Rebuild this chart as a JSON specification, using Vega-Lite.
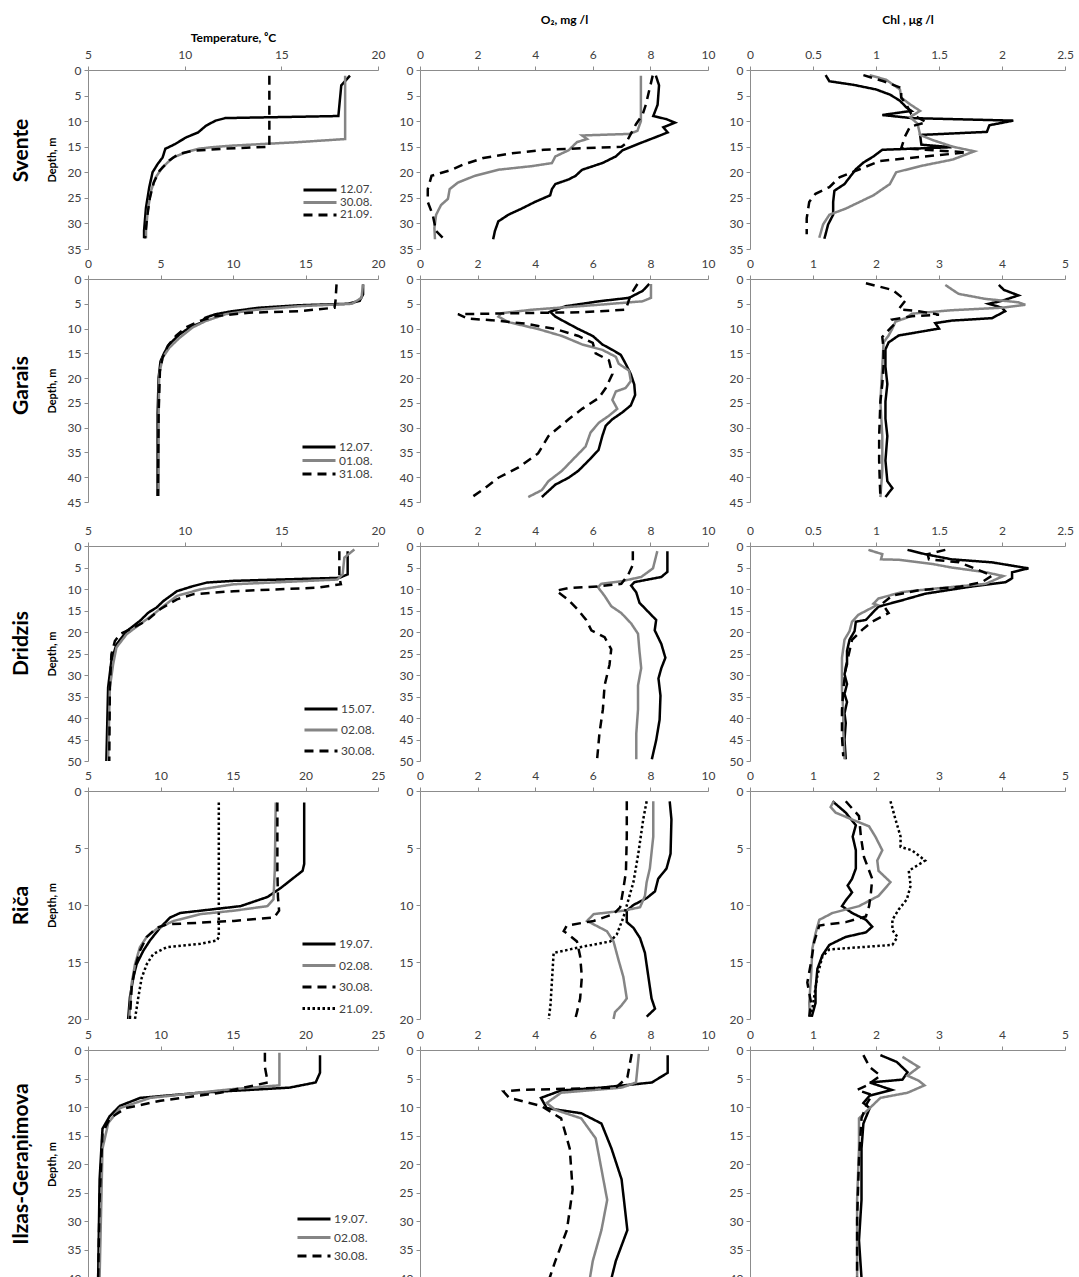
{
"$schema": "https://vega.github.io/schema/vega-lite/v6.json",
"background": "white",
"padding": {"left": 11, "top": 13, "right": 2, "bottom": 0},
"bounds": "flush",
"align": "each",
"columns": 3,
"spacing": {"row": 30, "column": 42},
"config": {
 "font": "Lato",
 "view": {"stroke": null},
 "axis": {"domainColor": "#8c8c8c", "tickColor": "#8c8c8c", "labelColor": "#404040", "labelFontSize": 12, "labelFont": "Lato", "grid": false, "tickSize": 4, "labelFlush": false, "labelOverlap": false, "titleFont": "Lato", "titleFontSize": 11, "titleFontWeight": "bold", "titleColor": "#000000", "format": ".2~f"},
 "legend": {"labelFontSize": 12, "labelFont": "Lato", "labelColor": "#404040"}
},
"resolve": {"scale": {"color": "independent", "strokeDash": "independent"}, "legend": {"color": "independent", "strokeDash": "independent"}},
"datasets": {
"svT": [
{"date":"12.07.","d":1.1,"v":18.55},{"date":"12.07.","d":3,"v":18.1},{"date":"12.07.","d":9,"v":17.95},{"date":"12.07.","d":9.4,"v":12.1},{"date":"12.07.","d":9.9,"v":11.6},{"date":"12.07.","d":10.9,"v":11.1},{"date":"12.07.","d":12.2,"v":10.7},{"date":"12.07.","d":13.2,"v":10.06},{"date":"12.07.","d":14.5,"v":9.5},{"date":"12.07.","d":15.4,"v":9.0},{"date":"12.07.","d":17.1,"v":8.86},{"date":"12.07.","d":18.4,"v":8.6},{"date":"12.07.","d":20,"v":8.34},{"date":"12.07.","d":22.9,"v":8.17},{"date":"12.07.","d":26.9,"v":8.0},{"date":"12.07.","d":31.4,"v":7.9},{"date":"12.07.","d":32.9,"v":7.9},
{"date":"30.08.","d":1.1,"v":18.3},{"date":"30.08.","d":9.9,"v":18.3},{"date":"30.08.","d":13.5,"v":18.3},{"date":"30.08.","d":14.1,"v":15.9},{"date":"30.08.","d":14.8,"v":12.4},{"date":"30.08.","d":15.1,"v":11.4},{"date":"30.08.","d":15.4,"v":10.7},{"date":"30.08.","d":16.1,"v":10.06},{"date":"30.08.","d":17.1,"v":9.4},{"date":"30.08.","d":19,"v":8.86},{"date":"30.08.","d":21,"v":8.5},{"date":"30.08.","d":23.6,"v":8.26},{"date":"30.08.","d":27.5,"v":8.09},{"date":"30.08.","d":31.4,"v":8.0},{"date":"30.08.","d":32.9,"v":8.0},
{"date":"21.09.","d":1.1,"v":14.38},{"date":"21.09.","d":15,"v":14.38},{"date":"21.09.","d":15.4,"v":12},{"date":"21.09.","d":15.8,"v":10.4},{"date":"21.09.","d":16.4,"v":9.7},{"date":"21.09.","d":17.7,"v":9.2},{"date":"21.09.","d":19.7,"v":8.7},{"date":"21.09.","d":22,"v":8.4},{"date":"21.09.","d":25,"v":8.2},{"date":"21.09.","d":29,"v":8.05},{"date":"21.09.","d":32.9,"v":7.95}
],
"svO": [
{"date":"12.07.","d":1.1,"v":8.19},{"date":"12.07.","d":3,"v":8.3},{"date":"12.07.","d":6.8,"v":8.25},{"date":"12.07.","d":9,"v":8.1},{"date":"12.07.","d":9.6,"v":8.55},{"date":"12.07.","d":10.3,"v":8.85},{"date":"12.07.","d":11.2,"v":8.45},{"date":"12.07.","d":12.2,"v":8.6},{"date":"12.07.","d":13.1,"v":8.2},{"date":"12.07.","d":14.4,"v":7.6},{"date":"12.07.","d":15.7,"v":7.03},{"date":"12.07.","d":16.9,"v":6.8},{"date":"12.07.","d":18.2,"v":6.33},{"date":"12.07.","d":19.5,"v":5.63},{"date":"12.07.","d":20.7,"v":5.4},{"date":"12.07.","d":21.4,"v":5.16},{"date":"12.07.","d":22.3,"v":4.7},{"date":"12.07.","d":23.3,"v":4.58},{"date":"12.07.","d":24.5,"v":4.52},{"date":"12.07.","d":25.8,"v":3.99},{"date":"12.07.","d":27.1,"v":3.53},{"date":"12.07.","d":28.3,"v":3.07},{"date":"12.07.","d":29.6,"v":2.72},{"date":"12.07.","d":31.5,"v":2.6},{"date":"12.07.","d":33.1,"v":2.54},
{"date":"30.08.","d":1.1,"v":7.67},{"date":"30.08.","d":10,"v":7.67},{"date":"30.08.","d":11.9,"v":7.55},{"date":"30.08.","d":12.5,"v":7.26},{"date":"30.08.","d":12.8,"v":5.63},{"date":"30.08.","d":13.5,"v":5.8},{"date":"30.08.","d":14.1,"v":5.45},{"date":"30.08.","d":15.7,"v":5.16},{"date":"30.08.","d":16.9,"v":4.7},{"date":"30.08.","d":18.2,"v":4.58},{"date":"30.08.","d":18.8,"v":3.88},{"date":"30.08.","d":19.5,"v":2.72},{"date":"30.08.","d":20.7,"v":1.9},{"date":"30.08.","d":22,"v":1.32},{"date":"30.08.","d":23.3,"v":1.03},{"date":"30.08.","d":25.2,"v":0.97},{"date":"30.08.","d":26.4,"v":0.73},{"date":"30.08.","d":28.3,"v":0.56},{"date":"30.08.","d":30.9,"v":0.5},{"date":"30.08.","d":33.1,"v":0.52},
{"date":"21.09.","d":1.1,"v":8.08},{"date":"21.09.","d":3,"v":8.0},{"date":"21.09.","d":6.8,"v":7.84},{"date":"21.09.","d":8.7,"v":7.73},{"date":"21.09.","d":10.6,"v":7.5},{"date":"21.09.","d":12.5,"v":7.32},{"date":"21.09.","d":14.4,"v":7.14},{"date":"21.09.","d":15,"v":7.0},{"date":"21.09.","d":15.3,"v":5.6},{"date":"21.09.","d":15.6,"v":4.3},{"date":"21.09.","d":16.3,"v":3.2},{"date":"21.09.","d":17.2,"v":2.2},{"date":"21.09.","d":18.5,"v":1.5},{"date":"21.09.","d":19.5,"v":1.1},{"date":"21.09.","d":20.7,"v":0.4},{"date":"21.09.","d":23.3,"v":0.27},{"date":"21.09.","d":25.8,"v":0.27},{"date":"21.09.","d":28.3,"v":0.44},{"date":"21.09.","d":31.5,"v":0.56},{"date":"21.09.","d":32.8,"v":0.79}
],
"svC": [
{"date":"12.07.","d":1,"v":0.6},{"date":"12.07.","d":2.2,"v":0.63},{"date":"12.07.","d":2.9,"v":0.82},{"date":"12.07.","d":3.8,"v":1.0},{"date":"12.07.","d":4.8,"v":1.11},{"date":"12.07.","d":6,"v":1.19},{"date":"12.07.","d":7.3,"v":1.24},{"date":"12.07.","d":8,"v":1.28},{"date":"12.07.","d":8.8,"v":1.05},{"date":"12.07.","d":9.4,"v":1.28},{"date":"12.07.","d":9.9,"v":2.09},{"date":"12.07.","d":10.8,"v":1.9},{"date":"12.07.","d":12.1,"v":1.88},{"date":"12.07.","d":12.7,"v":1.35},{"date":"12.07.","d":14.6,"v":1.36},{"date":"12.07.","d":15.1,"v":1.6},{"date":"12.07.","d":15.6,"v":1.05},{"date":"12.07.","d":16.9,"v":0.98},{"date":"12.07.","d":18.1,"v":0.9},{"date":"12.07.","d":19.4,"v":0.84},{"date":"12.07.","d":20.7,"v":0.8},{"date":"12.07.","d":22.3,"v":0.75},{"date":"12.07.","d":23.6,"v":0.67},{"date":"12.07.","d":25.8,"v":0.66},{"date":"12.07.","d":28.3,"v":0.66},{"date":"12.07.","d":30.2,"v":0.62},{"date":"12.07.","d":32.1,"v":0.6},{"date":"12.07.","d":33,"v":0.59},
{"date":"30.08.","d":1,"v":0.95},{"date":"30.08.","d":1.9,"v":1.08},{"date":"30.08.","d":3.8,"v":1.19},{"date":"30.08.","d":5.4,"v":1.2},{"date":"30.08.","d":6.7,"v":1.27},{"date":"30.08.","d":8,"v":1.35},{"date":"30.08.","d":9.2,"v":1.27},{"date":"30.08.","d":10.5,"v":1.33},{"date":"30.08.","d":12.7,"v":1.35},{"date":"30.08.","d":13.7,"v":1.45},{"date":"30.08.","d":15,"v":1.61},{"date":"30.08.","d":15.9,"v":1.78},{"date":"30.08.","d":17.5,"v":1.61},{"date":"30.08.","d":18.8,"v":1.35},{"date":"30.08.","d":20,"v":1.16},{"date":"30.08.","d":22.3,"v":1.11},{"date":"30.08.","d":24.5,"v":0.98},{"date":"30.08.","d":25.8,"v":0.87},{"date":"30.08.","d":27.1,"v":0.76},{"date":"30.08.","d":28.3,"v":0.63},{"date":"30.08.","d":30.2,"v":0.58},{"date":"30.08.","d":32.8,"v":0.55},
{"date":"21.09.","d":1,"v":0.9},{"date":"21.09.","d":2.2,"v":1.06},{"date":"21.09.","d":3.5,"v":1.2},{"date":"21.09.","d":5.4,"v":1.2},{"date":"21.09.","d":6.7,"v":1.24},{"date":"21.09.","d":8.6,"v":1.28},{"date":"21.09.","d":10.2,"v":1.4},{"date":"21.09.","d":11.1,"v":1.27},{"date":"21.09.","d":13,"v":1.23},{"date":"21.09.","d":15.3,"v":1.2},{"date":"21.09.","d":16.1,"v":1.72},{"date":"21.09.","d":17.8,"v":1.03},{"date":"21.09.","d":19.4,"v":0.87},{"date":"21.09.","d":21,"v":0.71},{"date":"21.09.","d":22.9,"v":0.63},{"date":"21.09.","d":24.2,"v":0.52},{"date":"21.09.","d":25.8,"v":0.47},{"date":"21.09.","d":29,"v":0.45},{"date":"21.09.","d":32.1,"v":0.45}
],
"gaT": [
{"date":"12.07.","d":1.1,"v":18.97},{"date":"12.07.","d":3.1,"v":18.97},{"date":"12.07.","d":4.4,"v":18.74},{"date":"12.07.","d":5,"v":17.9},{"date":"12.07.","d":5.3,"v":14.5},{"date":"12.07.","d":5.8,"v":11.8},{"date":"12.07.","d":6.5,"v":9.94},{"date":"12.07.","d":7.1,"v":8.8},{"date":"12.07.","d":7.8,"v":8.1},{"date":"12.07.","d":8.8,"v":7.8},{"date":"12.07.","d":9.8,"v":7.0},{"date":"12.07.","d":11.2,"v":6.3},{"date":"12.07.","d":13.2,"v":5.6},{"date":"12.07.","d":14.9,"v":5.26},{"date":"12.07.","d":16.6,"v":5.0},{"date":"12.07.","d":19.9,"v":4.87},{"date":"12.07.","d":27.3,"v":4.8},{"date":"12.07.","d":43.8,"v":4.8},
{"date":"01.08.","d":1.1,"v":18.97},{"date":"01.08.","d":3.8,"v":18.86},{"date":"01.08.","d":5,"v":18.2},{"date":"01.08.","d":5.5,"v":14.5},{"date":"01.08.","d":6.3,"v":11.3},{"date":"01.08.","d":7.1,"v":9.5},{"date":"01.08.","d":8.5,"v":8.1},{"date":"01.08.","d":9.8,"v":7.2},{"date":"01.08.","d":11.9,"v":6.3},{"date":"01.08.","d":13.9,"v":5.6},{"date":"01.08.","d":15.9,"v":5.14},{"date":"01.08.","d":19.3,"v":4.91},{"date":"01.08.","d":27.3,"v":4.87},{"date":"01.08.","d":43.8,"v":4.87},
{"date":"31.08.","d":1.1,"v":17.14},{"date":"31.08.","d":4.4,"v":17.07},{"date":"31.08.","d":5.8,"v":17.0},{"date":"31.08.","d":6.5,"v":14.5},{"date":"31.08.","d":6.8,"v":11.1},{"date":"31.08.","d":7.5,"v":8.8},{"date":"31.08.","d":8.5,"v":7.66},{"date":"31.08.","d":9.8,"v":6.74},{"date":"31.08.","d":11.5,"v":6.06},{"date":"31.08.","d":13.5,"v":5.5},{"date":"31.08.","d":15.9,"v":5.14},{"date":"31.08.","d":18.6,"v":4.96},{"date":"31.08.","d":27.3,"v":4.87},{"date":"31.08.","d":43.8,"v":4.82}
],
"gaO": [
{"date":"12.07.","d":1,"v":7.96},{"date":"12.07.","d":2.4,"v":7.73},{"date":"12.07.","d":3.8,"v":7.26},{"date":"12.07.","d":4.5,"v":6.21},{"date":"12.07.","d":5.5,"v":5.05},{"date":"12.07.","d":6.6,"v":4.52},{"date":"12.07.","d":7.6,"v":4.7},{"date":"12.07.","d":8.7,"v":5.05},{"date":"12.07.","d":10.1,"v":5.5},{"date":"12.07.","d":11.5,"v":6.0},{"date":"12.07.","d":13.2,"v":6.33},{"date":"12.07.","d":14.3,"v":6.68},{"date":"12.07.","d":15.3,"v":6.97},{"date":"12.07.","d":17.1,"v":7.14},{"date":"12.07.","d":19.2,"v":7.32},{"date":"12.07.","d":21.3,"v":7.44},{"date":"12.07.","d":23.4,"v":7.47},{"date":"12.07.","d":25.5,"v":7.32},{"date":"12.07.","d":26.9,"v":7.03},{"date":"12.07.","d":28.3,"v":6.68},{"date":"12.07.","d":29.6,"v":6.45},{"date":"12.07.","d":31.7,"v":6.33},{"date":"12.07.","d":34.5,"v":6.2},{"date":"12.07.","d":36.6,"v":5.86},{"date":"12.07.","d":38.7,"v":5.5},{"date":"12.07.","d":40.1,"v":5.16},{"date":"12.07.","d":41.5,"v":4.7},{"date":"12.07.","d":44,"v":4.23},
{"date":"01.08.","d":1,"v":8.02},{"date":"01.08.","d":3.8,"v":8.02},{"date":"01.08.","d":4.5,"v":7.73},{"date":"01.08.","d":5.2,"v":6.21},{"date":"01.08.","d":6.2,"v":3.88},{"date":"01.08.","d":6.9,"v":2.83},{"date":"01.08.","d":7.6,"v":2.72},{"date":"01.08.","d":8.7,"v":3.07},{"date":"01.08.","d":10.1,"v":4.1},{"date":"01.08.","d":11.5,"v":4.93},{"date":"01.08.","d":13.2,"v":5.63},{"date":"01.08.","d":14.3,"v":6.33},{"date":"01.08.","d":15.7,"v":6.8},{"date":"01.08.","d":17.1,"v":6.9},{"date":"01.08.","d":18.5,"v":7.26},{"date":"01.08.","d":20.6,"v":7.32},{"date":"01.08.","d":22,"v":7.14},{"date":"01.08.","d":22.7,"v":6.8},{"date":"01.08.","d":24.4,"v":6.68},{"date":"01.08.","d":26.2,"v":6.85},{"date":"01.08.","d":27.6,"v":6.56},{"date":"01.08.","d":29,"v":6.21},{"date":"01.08.","d":31,"v":5.92},{"date":"01.08.","d":33.8,"v":5.75},{"date":"01.08.","d":36.6,"v":5.28},{"date":"01.08.","d":38.7,"v":4.93},{"date":"01.08.","d":40.8,"v":4.46},{"date":"01.08.","d":42.6,"v":4.23},{"date":"01.08.","d":44,"v":3.76},
{"date":"31.08.","d":1,"v":7.55},{"date":"31.08.","d":3.1,"v":7.32},{"date":"31.08.","d":5.2,"v":7.2},{"date":"31.08.","d":6.2,"v":7.14},{"date":"31.08.","d":6.7,"v":5.63},{"date":"31.08.","d":6.9,"v":3.3},{"date":"31.08.","d":7.1,"v":1.32},{"date":"31.08.","d":8,"v":1.67},{"date":"31.08.","d":8.3,"v":2.48},{"date":"31.08.","d":9,"v":3.65},{"date":"31.08.","d":10.1,"v":4.7},{"date":"31.08.","d":11.5,"v":5.5},{"date":"31.08.","d":12.9,"v":6.0},{"date":"31.08.","d":15,"v":6.1},{"date":"31.08.","d":16.4,"v":6.56},{"date":"31.08.","d":19.2,"v":6.68},{"date":"31.08.","d":22,"v":6.45},{"date":"31.08.","d":24,"v":6.21},{"date":"31.08.","d":26.2,"v":5.63},{"date":"31.08.","d":28.3,"v":5.16},{"date":"31.08.","d":31.7,"v":4.46},{"date":"31.08.","d":35.2,"v":4.1},{"date":"31.08.","d":38,"v":3.42},{"date":"31.08.","d":40.1,"v":2.72},{"date":"31.08.","d":42.2,"v":2.26},{"date":"31.08.","d":44.3,"v":1.73}
],
"gaC": [
{"date":"12.07.","d":1.2,"v":3.95},{"date":"12.07.","d":2.2,"v":4.03},{"date":"12.07.","d":3.3,"v":4.26},{"date":"12.07.","d":4.4,"v":4.0},{"date":"12.07.","d":5,"v":3.79},{"date":"12.07.","d":5.8,"v":4.0},{"date":"12.07.","d":6.5,"v":4.05},{"date":"12.07.","d":7.9,"v":3.84},{"date":"12.07.","d":8.4,"v":3.2},{"date":"12.07.","d":8.9,"v":2.94},{"date":"12.07.","d":10,"v":3.0},{"date":"12.07.","d":10.7,"v":2.68},{"date":"12.07.","d":11.4,"v":2.36},{"date":"12.07.","d":12.8,"v":2.2},{"date":"12.07.","d":14.2,"v":2.15},{"date":"12.07.","d":17.7,"v":2.15},{"date":"12.07.","d":21.2,"v":2.18},{"date":"12.07.","d":24.7,"v":2.15},{"date":"12.07.","d":28.2,"v":2.15},{"date":"12.07.","d":31.7,"v":2.18},{"date":"12.07.","d":36.6,"v":2.15},{"date":"12.07.","d":40.8,"v":2.18},{"date":"12.07.","d":42.2,"v":2.26},{"date":"12.07.","d":44,"v":2.15},
{"date":"01.08.","d":1.2,"v":3.1},{"date":"01.08.","d":3,"v":3.31},{"date":"01.08.","d":4,"v":3.73},{"date":"01.08.","d":4.7,"v":4.26},{"date":"01.08.","d":5.2,"v":4.37},{"date":"01.08.","d":5.8,"v":4.0},{"date":"01.08.","d":6.3,"v":3.2},{"date":"01.08.","d":7,"v":2.57},{"date":"01.08.","d":7.9,"v":2.47},{"date":"01.08.","d":8.6,"v":2.31},{"date":"01.08.","d":10,"v":2.26},{"date":"01.08.","d":11.4,"v":2.2},{"date":"01.08.","d":12.8,"v":2.12},{"date":"01.08.","d":17.7,"v":2.1},{"date":"01.08.","d":24.7,"v":2.07},{"date":"01.08.","d":31.7,"v":2.1},{"date":"01.08.","d":38.7,"v":2.1},{"date":"01.08.","d":44,"v":2.07},
{"date":"31.08.","d":0.85,"v":1.84},{"date":"31.08.","d":2.2,"v":2.26},{"date":"31.08.","d":4.3,"v":2.47},{"date":"31.08.","d":6.1,"v":2.36},{"date":"31.08.","d":6.5,"v":2.68},{"date":"31.08.","d":7.2,"v":3.0},{"date":"31.08.","d":7.5,"v":2.57},{"date":"31.08.","d":8.2,"v":2.26},{"date":"31.08.","d":8.9,"v":2.31},{"date":"31.08.","d":10.3,"v":2.2},{"date":"31.08.","d":11.7,"v":2.1},{"date":"31.08.","d":14.2,"v":2.12},{"date":"31.08.","d":17.7,"v":2.12},{"date":"31.08.","d":21.2,"v":2.1},{"date":"31.08.","d":24.7,"v":2.07},{"date":"31.08.","d":31.7,"v":2.05},{"date":"31.08.","d":36.6,"v":2.05},{"date":"31.08.","d":40.8,"v":2.06},{"date":"31.08.","d":44,"v":2.07}
],
"drT": [
{"date":"15.07.","d":1.2,"v":18.43},{"date":"15.07.","d":6.6,"v":18.43},{"date":"15.07.","d":7.4,"v":18.0},{"date":"15.07.","d":8.1,"v":12.54},{"date":"15.07.","d":8.5,"v":11.15},{"date":"15.07.","d":9.3,"v":10.46},{"date":"15.07.","d":10.5,"v":9.6},{"date":"15.07.","d":12.8,"v":8.9},{"date":"15.07.","d":14.3,"v":8.55},{"date":"15.07.","d":15.5,"v":8.12},{"date":"15.07.","d":17.4,"v":7.69},{"date":"15.07.","d":19.8,"v":7.0},{"date":"15.07.","d":22.9,"v":6.47},{"date":"15.07.","d":26.7,"v":6.21},{"date":"15.07.","d":32.9,"v":6.04},{"date":"15.07.","d":50,"v":5.95},
{"date":"02.08.","d":0.8,"v":18.78},{"date":"02.08.","d":2.7,"v":18.26},{"date":"02.08.","d":6.6,"v":18.17},{"date":"02.08.","d":7.8,"v":17.9},{"date":"02.08.","d":8.9,"v":12.54},{"date":"02.08.","d":10.1,"v":10.8},{"date":"02.08.","d":11.6,"v":9.6},{"date":"02.08.","d":14,"v":8.9},{"date":"02.08.","d":15.9,"v":8.38},{"date":"02.08.","d":18.2,"v":7.69},{"date":"02.08.","d":20.5,"v":7.0},{"date":"02.08.","d":23.6,"v":6.47},{"date":"02.08.","d":27.5,"v":6.3},{"date":"02.08.","d":32.9,"v":6.13},{"date":"02.08.","d":50,"v":6.04},
{"date":"30.08.","d":1.2,"v":18.0},{"date":"30.08.","d":7.4,"v":18.0},{"date":"30.08.","d":8.9,"v":18.08},{"date":"30.08.","d":9.7,"v":16.87},{"date":"30.08.","d":10.5,"v":12.54},{"date":"30.08.","d":11.2,"v":10.46},{"date":"30.08.","d":12.4,"v":9.6},{"date":"30.08.","d":14.7,"v":8.73},{"date":"30.08.","d":17.4,"v":8.03},{"date":"30.08.","d":19,"v":7.34},{"date":"30.08.","d":20.5,"v":6.65},{"date":"30.08.","d":22.1,"v":6.39},{"date":"30.08.","d":25.2,"v":6.21},{"date":"30.08.","d":32.9,"v":6.13},{"date":"30.08.","d":50,"v":6.1}
],
"drO": [
{"date":"15.07.","d":1.2,"v":8.59},{"date":"15.07.","d":6,"v":8.59},{"date":"15.07.","d":7.2,"v":8.38},{"date":"15.07.","d":8.4,"v":7.45},{"date":"15.07.","d":9.2,"v":7.33},{"date":"15.07.","d":10.8,"v":7.51},{"date":"15.07.","d":13.2,"v":7.62},{"date":"15.07.","d":15.2,"v":7.91},{"date":"15.07.","d":17.2,"v":8.2},{"date":"15.07.","d":19.6,"v":8.15},{"date":"15.07.","d":22.8,"v":8.38},{"date":"15.07.","d":26,"v":8.52},{"date":"15.07.","d":28.4,"v":8.38},{"date":"15.07.","d":30.8,"v":8.28},{"date":"15.07.","d":34.8,"v":8.35},{"date":"15.07.","d":40.4,"v":8.32},{"date":"15.07.","d":45.2,"v":8.2},{"date":"15.07.","d":49.6,"v":8.05},
{"date":"02.08.","d":1.2,"v":8.24},{"date":"02.08.","d":3.6,"v":8.15},{"date":"02.08.","d":5.2,"v":8.09},{"date":"02.08.","d":7.2,"v":7.68},{"date":"02.08.","d":8.2,"v":6.99},{"date":"02.08.","d":8.8,"v":6.29},{"date":"02.08.","d":9.6,"v":6.18},{"date":"02.08.","d":11.6,"v":6.41},{"date":"02.08.","d":14,"v":6.64},{"date":"02.08.","d":15.6,"v":6.99},{"date":"02.08.","d":18,"v":7.33},{"date":"02.08.","d":20.4,"v":7.57},{"date":"02.08.","d":24.4,"v":7.62},{"date":"02.08.","d":28.4,"v":7.68},{"date":"02.08.","d":32.4,"v":7.57},{"date":"02.08.","d":38,"v":7.57},{"date":"02.08.","d":43.6,"v":7.51},{"date":"02.08.","d":49.6,"v":7.51},
{"date":"30.08.","d":1.2,"v":7.39},{"date":"30.08.","d":4.4,"v":7.39},{"date":"30.08.","d":6.8,"v":7.22},{"date":"30.08.","d":8.8,"v":6.99},{"date":"30.08.","d":9.4,"v":6.18},{"date":"30.08.","d":9.8,"v":5.13},{"date":"30.08.","d":10.4,"v":4.73},{"date":"30.08.","d":12.4,"v":5.13},{"date":"30.08.","d":14.8,"v":5.48},{"date":"30.08.","d":17.2,"v":5.77},{"date":"30.08.","d":19.6,"v":5.95},{"date":"30.08.","d":21.2,"v":6.41},{"date":"30.08.","d":24,"v":6.64},{"date":"30.08.","d":27.6,"v":6.58},{"date":"30.08.","d":32.4,"v":6.41},{"date":"30.08.","d":38,"v":6.35},{"date":"30.08.","d":43.6,"v":6.23},{"date":"30.08.","d":49.6,"v":6.15}
],
"drC": [
{"date":"15.07.","d":0.9,"v":1.25},{"date":"15.07.","d":1.9,"v":1.39},{"date":"15.07.","d":3.1,"v":1.6},{"date":"15.07.","d":3.8,"v":1.92},{"date":"15.07.","d":5.2,"v":2.21},{"date":"15.07.","d":6.1,"v":2.08},{"date":"15.07.","d":7.5,"v":2.08},{"date":"15.07.","d":8.4,"v":2.03},{"date":"15.07.","d":9.5,"v":1.74},{"date":"15.07.","d":11.1,"v":1.39},{"date":"15.07.","d":12.6,"v":1.21},{"date":"15.07.","d":14.1,"v":1.02},{"date":"15.07.","d":15.6,"v":0.97},{"date":"15.07.","d":17.2,"v":0.92},{"date":"15.07.","d":17.6,"v":0.84},{"date":"15.07.","d":19.8,"v":0.83},{"date":"15.07.","d":21.8,"v":0.79},{"date":"15.07.","d":24.4,"v":0.77},{"date":"15.07.","d":27.5,"v":0.77},{"date":"15.07.","d":29.8,"v":0.75},{"date":"15.07.","d":32.1,"v":0.77},{"date":"15.07.","d":34.4,"v":0.75},{"date":"15.07.","d":36.3,"v":0.77},{"date":"15.07.","d":38.9,"v":0.75},{"date":"15.07.","d":41.2,"v":0.76},{"date":"15.07.","d":45,"v":0.75},{"date":"15.07.","d":49.6,"v":0.76},
{"date":"02.08.","d":0.9,"v":0.94},{"date":"02.08.","d":1.9,"v":1.05},{"date":"02.08.","d":3.1,"v":1.04},{"date":"02.08.","d":3.2,"v":1.18},{"date":"02.08.","d":4.2,"v":1.45},{"date":"02.08.","d":5,"v":1.6},{"date":"02.08.","d":6.1,"v":1.87},{"date":"02.08.","d":7,"v":2.01},{"date":"02.08.","d":8.8,"v":1.87},{"date":"02.08.","d":9.9,"v":1.47},{"date":"02.08.","d":10.7,"v":1.21},{"date":"02.08.","d":12.2,"v":1.02},{"date":"02.08.","d":13.4,"v":0.98},{"date":"02.08.","d":13.7,"v":1.01},{"date":"02.08.","d":16,"v":0.86},{"date":"02.08.","d":17.6,"v":0.81},{"date":"02.08.","d":19.8,"v":0.79},{"date":"02.08.","d":21.8,"v":0.75},{"date":"02.08.","d":26,"v":0.73},{"date":"02.08.","d":29.8,"v":0.73},{"date":"02.08.","d":33.6,"v":0.73},{"date":"02.08.","d":38.2,"v":0.74},{"date":"02.08.","d":42.7,"v":0.74},{"date":"02.08.","d":49.6,"v":0.75},
{"date":"30.08.","d":0.9,"v":1.55},{"date":"30.08.","d":1.9,"v":1.41},{"date":"30.08.","d":3.1,"v":1.42},{"date":"30.08.","d":3.8,"v":1.66},{"date":"30.08.","d":5.3,"v":1.79},{"date":"30.08.","d":6.9,"v":1.92},{"date":"30.08.","d":8.4,"v":1.84},{"date":"30.08.","d":9.5,"v":1.66},{"date":"30.08.","d":10.3,"v":1.34},{"date":"30.08.","d":11.5,"v":1.13},{"date":"30.08.","d":13.4,"v":1.05},{"date":"30.08.","d":15.6,"v":1.1},{"date":"30.08.","d":17.6,"v":0.97},{"date":"30.08.","d":19.5,"v":0.89},{"date":"30.08.","d":21.8,"v":0.81},{"date":"30.08.","d":24.4,"v":0.79},{"date":"30.08.","d":28.2,"v":0.76},{"date":"30.08.","d":33.6,"v":0.74},{"date":"30.08.","d":38.2,"v":0.73},{"date":"30.08.","d":44.3,"v":0.73},{"date":"30.08.","d":48.9,"v":0.74}
],
"riT": [
{"date":"19.07.","d":1,"v":19.91},{"date":"19.07.","d":6.4,"v":19.91},{"date":"19.07.","d":7,"v":19.8},{"date":"19.07.","d":7.6,"v":19.2},{"date":"19.07.","d":8.5,"v":18.3},{"date":"19.07.","d":9.3,"v":17.37},{"date":"19.07.","d":10.1,"v":15.52},{"date":"19.07.","d":10.5,"v":12.75},{"date":"19.07.","d":10.7,"v":11.36},{"date":"19.07.","d":11.1,"v":10.66},{"date":"19.07.","d":12,"v":9.97},{"date":"19.07.","d":13.1,"v":9.28},{"date":"19.07.","d":14,"v":8.82},{"date":"19.07.","d":15.2,"v":8.35},{"date":"19.07.","d":16.4,"v":8.12},{"date":"19.07.","d":18.1,"v":7.89},{"date":"19.07.","d":20,"v":7.77},
{"date":"02.08.","d":1,"v":17.95},{"date":"02.08.","d":7,"v":17.88},{"date":"02.08.","d":9.5,"v":17.79},{"date":"02.08.","d":10.1,"v":17.37},{"date":"02.08.","d":10.5,"v":15.06},{"date":"02.08.","d":10.8,"v":12.75},{"date":"02.08.","d":11.4,"v":10.9},{"date":"02.08.","d":12.1,"v":9.74},{"date":"02.08.","d":12.8,"v":9.05},{"date":"02.08.","d":13.7,"v":8.58},{"date":"02.08.","d":15.2,"v":8.24},{"date":"02.08.","d":16.9,"v":8.01},{"date":"02.08.","d":20,"v":7.84},
{"date":"30.08.","d":1,"v":18.06},{"date":"30.08.","d":7,"v":18.06},{"date":"30.08.","d":9.3,"v":18.1},{"date":"30.08.","d":10.5,"v":18.18},{"date":"30.08.","d":11.1,"v":17.83},{"date":"30.08.","d":11.4,"v":15.06},{"date":"30.08.","d":11.7,"v":10.43},{"date":"30.08.","d":12,"v":9.74},{"date":"30.08.","d":12.8,"v":9.05},{"date":"30.08.","d":14,"v":8.58},{"date":"30.08.","d":15.5,"v":8.24},{"date":"30.08.","d":17.2,"v":8.01},{"date":"30.08.","d":20,"v":7.89},
{"date":"21.09.","d":1,"v":14.02},{"date":"21.09.","d":7,"v":14.02},{"date":"21.09.","d":12.8,"v":14.02},{"date":"21.09.","d":13.1,"v":13.9},{"date":"21.09.","d":13.4,"v":12.75},{"date":"21.09.","d":13.7,"v":10.43},{"date":"21.09.","d":14.3,"v":9.5},{"date":"21.09.","d":15.2,"v":9.05},{"date":"21.09.","d":16.4,"v":8.7},{"date":"21.09.","d":18.1,"v":8.47},{"date":"21.09.","d":20,"v":8.24}
],
"riO": [
{"date":"19.07.","d":0.9,"v":8.67},{"date":"19.07.","d":2.5,"v":8.73},{"date":"19.07.","d":5.5,"v":8.7},{"date":"19.07.","d":6.8,"v":8.56},{"date":"19.07.","d":7.7,"v":8.27},{"date":"19.07.","d":8.8,"v":8.16},{"date":"19.07.","d":9.4,"v":7.87},{"date":"19.07.","d":10,"v":7.41},{"date":"19.07.","d":10.5,"v":7.18},{"date":"19.07.","d":11.5,"v":7.18},{"date":"19.07.","d":12,"v":7.41},{"date":"19.07.","d":12.9,"v":7.64},{"date":"19.07.","d":14.2,"v":7.81},{"date":"19.07.","d":16.3,"v":7.93},{"date":"19.07.","d":18.2,"v":8.04},{"date":"19.07.","d":19.1,"v":8.16},{"date":"19.07.","d":19.8,"v":7.87},
{"date":"02.08.","d":0.9,"v":8.1},{"date":"02.08.","d":4,"v":8.1},{"date":"02.08.","d":6.8,"v":7.98},{"date":"02.08.","d":8,"v":7.87},{"date":"02.08.","d":9.2,"v":7.81},{"date":"02.08.","d":10.2,"v":7.64},{"date":"02.08.","d":10.5,"v":7.06},{"date":"02.08.","d":10.8,"v":6.03},{"date":"02.08.","d":11.4,"v":5.8},{"date":"02.08.","d":11.7,"v":6.03},{"date":"02.08.","d":12.3,"v":6.49},{"date":"02.08.","d":13.2,"v":6.72},{"date":"02.08.","d":14.8,"v":6.89},{"date":"02.08.","d":16.3,"v":7.06},{"date":"02.08.","d":18.2,"v":7.18},{"date":"02.08.","d":18.8,"v":7.0},{"date":"02.08.","d":19.4,"v":6.77},{"date":"02.08.","d":20,"v":6.72},
{"date":"30.08.","d":0.9,"v":7.18},{"date":"30.08.","d":4,"v":7.18},{"date":"30.08.","d":7.1,"v":7.15},{"date":"30.08.","d":8.6,"v":7.06},{"date":"30.08.","d":10.2,"v":6.95},{"date":"30.08.","d":10.8,"v":6.72},{"date":"30.08.","d":11.4,"v":6.03},{"date":"30.08.","d":11.8,"v":5.1},{"date":"30.08.","d":12.3,"v":4.99},{"date":"30.08.","d":12.6,"v":5.16},{"date":"30.08.","d":13.2,"v":5.45},{"date":"30.08.","d":14.5,"v":5.56},{"date":"30.08.","d":16.3,"v":5.62},{"date":"30.08.","d":18.2,"v":5.56},{"date":"30.08.","d":19.4,"v":5.45},{"date":"30.08.","d":20,"v":5.39},
{"date":"21.09.","d":0.9,"v":7.87},{"date":"21.09.","d":2.5,"v":7.75},{"date":"21.09.","d":5.5,"v":7.58},{"date":"21.09.","d":8,"v":7.41},{"date":"21.09.","d":9.5,"v":7.24},{"date":"21.09.","d":11.1,"v":7.06},{"date":"21.09.","d":12.6,"v":6.83},{"date":"21.09.","d":13.2,"v":6.6},{"date":"21.09.","d":13.7,"v":5.56},{"date":"21.09.","d":14.2,"v":4.64},{"date":"21.09.","d":16.3,"v":4.59},{"date":"21.09.","d":18.8,"v":4.53},{"date":"21.09.","d":20,"v":4.47}
],
"riC": [
{"date":"19.07.","d":0.9,"v":1.31},{"date":"19.07.","d":1.9,"v":1.52},{"date":"19.07.","d":3,"v":1.68},{"date":"19.07.","d":4,"v":1.63},{"date":"19.07.","d":5.2,"v":1.68},{"date":"19.07.","d":6.8,"v":1.68},{"date":"19.07.","d":7.7,"v":1.62},{"date":"19.07.","d":8.3,"v":1.55},{"date":"19.07.","d":8.9,"v":1.62},{"date":"19.07.","d":9.6,"v":1.52},{"date":"19.07.","d":10.1,"v":1.46},{"date":"19.07.","d":10.7,"v":1.62},{"date":"19.07.","d":11.3,"v":1.84},{"date":"19.07.","d":11.9,"v":1.94},{"date":"19.07.","d":12.4,"v":1.84},{"date":"19.07.","d":12.8,"v":1.52},{"date":"19.07.","d":13.5,"v":1.26},{"date":"19.07.","d":14.4,"v":1.15},{"date":"19.07.","d":15.6,"v":1.07},{"date":"19.07.","d":17.4,"v":1.04},{"date":"19.07.","d":18.6,"v":1.04},{"date":"19.07.","d":19.8,"v":0.98},
{"date":"02.08.","d":0.9,"v":1.33},{"date":"02.08.","d":1.4,"v":1.28},{"date":"02.08.","d":1.9,"v":1.36},{"date":"02.08.","d":2.5,"v":1.62},{"date":"02.08.","d":3.1,"v":1.89},{"date":"02.08.","d":4,"v":1.99},{"date":"02.08.","d":5.2,"v":2.1},{"date":"02.08.","d":6.1,"v":2.02},{"date":"02.08.","d":7,"v":2.04},{"date":"02.08.","d":8,"v":2.23},{"date":"02.08.","d":9.2,"v":2.04},{"date":"02.08.","d":10.1,"v":1.73},{"date":"02.08.","d":10.7,"v":1.31},{"date":"02.08.","d":11.3,"v":1.1},{"date":"02.08.","d":12.5,"v":1.04},{"date":"02.08.","d":13.8,"v":0.99},{"date":"02.08.","d":16.2,"v":0.97},{"date":"02.08.","d":18.6,"v":0.94},{"date":"02.08.","d":19.8,"v":0.95},
{"date":"30.08.","d":0.9,"v":1.52},{"date":"30.08.","d":2.2,"v":1.73},{"date":"30.08.","d":4,"v":1.76},{"date":"30.08.","d":5.8,"v":1.81},{"date":"30.08.","d":7.7,"v":1.94},{"date":"30.08.","d":8.9,"v":1.92},{"date":"30.08.","d":10.1,"v":1.89},{"date":"30.08.","d":11,"v":1.84},{"date":"30.08.","d":11.5,"v":1.52},{"date":"30.08.","d":11.8,"v":1.1},{"date":"30.08.","d":13.2,"v":1.02},{"date":"30.08.","d":15,"v":0.97},{"date":"30.08.","d":16.8,"v":0.91},{"date":"30.08.","d":18.6,"v":0.97},{"date":"30.08.","d":19.8,"v":0.94},
{"date":"21.09.","d":0.9,"v":2.23},{"date":"21.09.","d":2.5,"v":2.31},{"date":"21.09.","d":4,"v":2.39},{"date":"21.09.","d":4.9,"v":2.39},{"date":"21.09.","d":5.2,"v":2.57},{"date":"21.09.","d":6.1,"v":2.78},{"date":"21.09.","d":7,"v":2.52},{"date":"21.09.","d":8.3,"v":2.55},{"date":"21.09.","d":9.5,"v":2.49},{"date":"21.09.","d":10.4,"v":2.36},{"date":"21.09.","d":11.3,"v":2.26},{"date":"21.09.","d":12.2,"v":2.26},{"date":"21.09.","d":12.8,"v":2.34},{"date":"21.09.","d":13.5,"v":2.26},{"date":"21.09.","d":13.9,"v":1.26},{"date":"21.09.","d":14.5,"v":1.15},{"date":"21.09.","d":16.2,"v":1.07},{"date":"21.09.","d":18,"v":1.02},{"date":"21.09.","d":19.8,"v":0.97}
],
"ilT": [
{"date":"19.07.","d":0.9,"v":21.0},{"date":"19.07.","d":4,"v":21.0},{"date":"19.07.","d":5.7,"v":20.7},{"date":"19.07.","d":6.6,"v":18.9},{"date":"19.07.","d":7.5,"v":12.7},{"date":"19.07.","d":8.4,"v":8.6},{"date":"19.07.","d":9.8,"v":7.2},{"date":"19.07.","d":11.6,"v":6.5},{"date":"19.07.","d":13.8,"v":6.0},{"date":"19.07.","d":22.7,"v":5.8},{"date":"19.07.","d":40,"v":5.7},
{"date":"02.08.","d":0.5,"v":18.2},{"date":"02.08.","d":6.2,"v":18.2},{"date":"02.08.","d":6.9,"v":14.8},{"date":"02.08.","d":8.4,"v":9.3},{"date":"02.08.","d":10.2,"v":7.2},{"date":"02.08.","d":12.8,"v":6.4},{"date":"02.08.","d":17.3,"v":6.0},{"date":"02.08.","d":40,"v":5.8},
{"date":"30.08.","d":0.5,"v":17.2},{"date":"30.08.","d":3,"v":17.2},{"date":"30.08.","d":5.7,"v":17.4},{"date":"30.08.","d":7.5,"v":14.1},{"date":"30.08.","d":8.9,"v":10.0},{"date":"30.08.","d":10.2,"v":7.6},{"date":"30.08.","d":12,"v":6.5},{"date":"30.08.","d":14.6,"v":6.0},{"date":"30.08.","d":26.2,"v":5.8},{"date":"30.08.","d":40,"v":5.7}
],
"ilO": [
{"date":"19.07.","d":0.9,"v":8.6},{"date":"19.07.","d":4,"v":8.6},{"date":"19.07.","d":5.7,"v":8.05},{"date":"19.07.","d":6.6,"v":6.3},{"date":"19.07.","d":7.1,"v":4.9},{"date":"19.07.","d":8.4,"v":4.2},{"date":"19.07.","d":10.2,"v":4.4},{"date":"19.07.","d":11.1,"v":5.6},{"date":"19.07.","d":12.9,"v":6.3},{"date":"19.07.","d":17.3,"v":6.65},{"date":"19.07.","d":22.7,"v":7.0},{"date":"19.07.","d":31.6,"v":7.2},{"date":"19.07.","d":37,"v":6.8},{"date":"19.07.","d":40,"v":6.65},
{"date":"02.08.","d":0.7,"v":7.6},{"date":"02.08.","d":5.7,"v":7.5},{"date":"02.08.","d":6.6,"v":7.0},{"date":"02.08.","d":7.5,"v":4.9},{"date":"02.08.","d":9.3,"v":4.4},{"date":"02.08.","d":10.5,"v":4.7},{"date":"02.08.","d":12,"v":5.6},{"date":"02.08.","d":15.5,"v":6.1},{"date":"02.08.","d":20.9,"v":6.3},{"date":"02.08.","d":26.3,"v":6.5},{"date":"02.08.","d":31.6,"v":6.3},{"date":"02.08.","d":37,"v":6.0},{"date":"02.08.","d":40,"v":5.9},
{"date":"30.08.","d":0.7,"v":7.35},{"date":"30.08.","d":4.8,"v":7.2},{"date":"30.08.","d":6.6,"v":6.8},{"date":"30.08.","d":7,"v":3.5},{"date":"30.08.","d":7.3,"v":2.9},{"date":"30.08.","d":8.4,"v":3.1},{"date":"30.08.","d":9.8,"v":4.2},{"date":"30.08.","d":12,"v":4.9},{"date":"30.08.","d":17.3,"v":5.2},{"date":"30.08.","d":24.5,"v":5.3},{"date":"30.08.","d":31.6,"v":5.1},{"date":"30.08.","d":37,"v":4.7},{"date":"30.08.","d":40,"v":4.5}
],
"ilC": [
{"date":"19.07.","d":0.9,"v":2.07},{"date":"19.07.","d":2.1,"v":2.33},{"date":"19.07.","d":3.9,"v":2.5},{"date":"19.07.","d":5.2,"v":2.42},{"date":"19.07.","d":5.7,"v":1.9},{"date":"19.07.","d":7,"v":2.25},{"date":"19.07.","d":8,"v":1.9},{"date":"19.07.","d":9.3,"v":1.8},{"date":"19.07.","d":10.2,"v":1.9},{"date":"19.07.","d":12.9,"v":1.8},{"date":"19.07.","d":17.3,"v":1.77},{"date":"19.07.","d":26.3,"v":1.77},{"date":"19.07.","d":33.4,"v":1.73},{"date":"19.07.","d":40,"v":1.77},
{"date":"02.08.","d":1.2,"v":2.42},{"date":"02.08.","d":3,"v":2.68},{"date":"02.08.","d":4.5,"v":2.5},{"date":"02.08.","d":5.4,"v":2.68},{"date":"02.08.","d":6.2,"v":2.77},{"date":"02.08.","d":7.5,"v":2.5},{"date":"02.08.","d":8.4,"v":2.07},{"date":"02.08.","d":10.2,"v":1.9},{"date":"02.08.","d":12,"v":1.73},{"date":"02.08.","d":17.3,"v":1.73},{"date":"02.08.","d":26.3,"v":1.7},{"date":"02.08.","d":40,"v":1.7},
{"date":"30.08.","d":0.9,"v":1.8},{"date":"30.08.","d":3,"v":1.9},{"date":"30.08.","d":4.5,"v":2.07},{"date":"30.08.","d":6.2,"v":1.86},{"date":"30.08.","d":7,"v":1.7},{"date":"30.08.","d":7.9,"v":1.94},{"date":"30.08.","d":9.3,"v":1.86},{"date":"30.08.","d":12,"v":1.77},{"date":"30.08.","d":19.1,"v":1.73},{"date":"30.08.","d":29.8,"v":1.7},{"date":"30.08.","d":40,"v":1.7}
]
},
"concat": [
{"data":{"name":"svT"},"width":290,"height":179,
 "title":{"text":"Svente","orient":"left","anchor":"middle","fontSize":21,"fontWeight":"bold","font":"Lato","color":"#000000","offset":14,"dx":9},
 "mark":{"type":"line","strokeWidth":2.5},
 "encoding":{
  "x":{"field":"v","type":"quantitative","scale":{"domain":[5,20],"nice":false,"zero":false},"axis":{"orient":"top","values":[5,10,15,20],"labelPadding":5,"title":"Temperature, ⁰C","titleFontSize":12,"titlePadding":4}},
  "y":{"field":"d","type":"quantitative","scale":{"domain":[0,35],"range":[0,179],"nice":false},"axis":{"values":[0,5,10,15,20,25,30,35],"labelPadding":3,"title":"Depth, m","titlePadding":10}},
  "order":{"field":"d","type":"quantitative"},
  "color":{"field":"date","type":"nominal","scale":{"domain":["12.07.","30.08.","21.09."],"range":["#000000","#858585","#000000"]},"legend":{"title":null,"orient":"none","legendX":226,"legendY":114,"padding":0,"symbolType":"M-3.67,0H3.67","symbolSize":81,"symbolStrokeWidth":3,"labelOffset":14,"rowPadding":0.5,"labelFontSize":11.5}},
  "strokeDash":{"field":"date","type":"nominal","scale":{"domain":["12.07.","30.08.","21.09."],"range":[[1,0],[1,0],[9,6]]},"legend":{"title":null,"orient":"none","legendX":226,"legendY":114,"padding":0,"symbolType":"M-3.67,0H3.67","symbolSize":81,"symbolStrokeWidth":3,"labelOffset":14,"rowPadding":0.5,"labelFontSize":11.5}}
 }},
{"data":{"name":"svO"},"width":288,"height":179,
 "mark":{"type":"line","strokeWidth":2.5},
 "encoding":{
  "x":{"field":"v","type":"quantitative","scale":{"domain":[0,10],"nice":false,"zero":false},"axis":{"orient":"top","values":[0,2,4,6,8,10],"labelPadding":5,"title":"O₂, mg /l","titleFontSize":12,"titlePadding":22}},
  "y":{"field":"d","type":"quantitative","scale":{"domain":[0,35],"range":[0,179],"nice":false},"axis":{"values":[0,5,10,15,20,25,30,35],"labelPadding":3,"title":null}},
  "order":{"field":"d","type":"quantitative"},
  "color":{"field":"date","type":"nominal","scale":{"domain":["12.07.","30.08.","21.09."],"range":["#000000","#858585","#000000"]},"legend":null},
  "strokeDash":{"field":"date","type":"nominal","scale":{"domain":["12.07.","30.08.","21.09."],"range":[[1,0],[1,0],[9,6]]},"legend":null}
 }},
{"data":{"name":"svC"},"width":315,"height":179,
 "mark":{"type":"line","strokeWidth":2.5},
 "encoding":{
  "x":{"field":"v","type":"quantitative","scale":{"domain":[0,2.5],"nice":false,"zero":false},"axis":{"orient":"top","values":[0,0.5,1,1.5,2,2.5],"labelPadding":5,"title":"Chl , μg /l","titleFontSize":12,"titlePadding":22}},
  "y":{"field":"d","type":"quantitative","scale":{"domain":[0,35],"range":[0,179],"nice":false},"axis":{"values":[0,5,10,15,20,25,30,35],"labelPadding":3,"title":null}},
  "order":{"field":"d","type":"quantitative"},
  "color":{"field":"date","type":"nominal","scale":{"domain":["12.07.","30.08.","21.09."],"range":["#000000","#858585","#000000"]},"legend":null},
  "strokeDash":{"field":"date","type":"nominal","scale":{"domain":["12.07.","30.08.","21.09."],"range":[[1,0],[1,0],[9,6]]},"legend":null}
 }},
{"data":{"name":"gaT"},"width":290,"height":237,
 "title":{"text":"Garais","orient":"left","anchor":"middle","fontSize":21,"fontWeight":"bold","font":"Lato","color":"#000000","offset":14,"dx":12},
 "mark":{"type":"line","strokeWidth":2.5},
 "encoding":{
  "x":{"field":"v","type":"quantitative","scale":{"domain":[0,20],"nice":false,"zero":false},"axis":{"orient":"top","values":[0,5,10,15,20],"labelPadding":5,"title":null}},
  "y":{"field":"d","type":"quantitative","scale":{"domain":[0,45],"range":[0,223],"nice":false},"axis":{"values":[0,5,10,15,20,25,30,35,40,45],"labelPadding":3,"title":"Depth, m","titlePadding":10}},
  "order":{"field":"d","type":"quantitative"},
  "color":{"field":"date","type":"nominal","scale":{"domain":["12.07.","01.08.","31.08."],"range":["#000000","#858585","#000000"]},"legend":{"title":null,"orient":"none","legendX":225,"legendY":162,"padding":0,"symbolType":"M-3.67,0H3.67","symbolSize":81,"symbolStrokeWidth":3,"labelOffset":14,"rowPadding":1.5}},
  "strokeDash":{"field":"date","type":"nominal","scale":{"domain":["12.07.","01.08.","31.08."],"range":[[1,0],[1,0],[9,6]]},"legend":{"title":null,"orient":"none","legendX":225,"legendY":162,"padding":0,"symbolType":"M-3.67,0H3.67","symbolSize":81,"symbolStrokeWidth":3,"labelOffset":14,"rowPadding":1.5}}
 }},
{"data":{"name":"gaO"},"width":288,"height":237,
 "mark":{"type":"line","strokeWidth":2.5},
 "encoding":{
  "x":{"field":"v","type":"quantitative","scale":{"domain":[0,10],"nice":false,"zero":false},"axis":{"orient":"top","values":[0,2,4,6,8,10],"labelPadding":5,"title":null}},
  "y":{"field":"d","type":"quantitative","scale":{"domain":[0,45],"range":[0,223],"nice":false},"axis":{"values":[0,5,10,15,20,25,30,35,40,45],"labelPadding":3,"title":null}},
  "order":{"field":"d","type":"quantitative"},
  "color":{"field":"date","type":"nominal","scale":{"domain":["12.07.","01.08.","31.08."],"range":["#000000","#858585","#000000"]},"legend":null},
  "strokeDash":{"field":"date","type":"nominal","scale":{"domain":["12.07.","01.08.","31.08."],"range":[[1,0],[1,0],[9,6]]},"legend":null}
 }},
{"data":{"name":"gaC"},"width":315,"height":237,
 "mark":{"type":"line","strokeWidth":2.5},
 "encoding":{
  "x":{"field":"v","type":"quantitative","scale":{"domain":[0,5],"nice":false,"zero":false},"axis":{"orient":"top","values":[0,1,2,3,4,5],"labelPadding":5,"title":null}},
  "y":{"field":"d","type":"quantitative","scale":{"domain":[0,45],"range":[0,223],"nice":false},"axis":{"values":[0,5,10,15,20,25,30,35,40,45],"labelPadding":3,"title":null}},
  "order":{"field":"d","type":"quantitative"},
  "color":{"field":"date","type":"nominal","scale":{"domain":["12.07.","01.08.","31.08."],"range":["#000000","#858585","#000000"]},"legend":null},
  "strokeDash":{"field":"date","type":"nominal","scale":{"domain":["12.07.","01.08.","31.08."],"range":[[1,0],[1,0],[9,6]]},"legend":null}
 }},
{"data":{"name":"drT"},"width":290,"height":215,
 "title":{"text":"Dridzis","orient":"left","anchor":"middle","fontSize":21,"fontWeight":"bold","font":"Lato","color":"#000000","offset":14,"dx":10},
 "mark":{"type":"line","strokeWidth":2.5},
 "encoding":{
  "x":{"field":"v","type":"quantitative","scale":{"domain":[5,20],"nice":false,"zero":false},"axis":{"orient":"top","values":[5,10,15,20],"labelPadding":5,"title":null}},
  "y":{"field":"d","type":"quantitative","scale":{"domain":[0,50],"range":[0,215],"nice":false},"axis":{"values":[0,5,10,15,20,25,30,35,40,45,50],"labelPadding":3,"title":"Depth, m","titlePadding":10}},
  "order":{"field":"d","type":"quantitative"},
  "color":{"field":"date","type":"nominal","scale":{"domain":["15.07.","02.08.","30.08."],"range":["#000000","#858585","#000000"]},"legend":{"title":null,"orient":"none","legendX":227,"legendY":157,"padding":0,"symbolType":"M-3.67,0H3.67","symbolSize":81,"symbolStrokeWidth":3,"labelOffset":14,"rowPadding":9}},
  "strokeDash":{"field":"date","type":"nominal","scale":{"domain":["15.07.","02.08.","30.08."],"range":[[1,0],[1,0],[9,6]]},"legend":{"title":null,"orient":"none","legendX":227,"legendY":157,"padding":0,"symbolType":"M-3.67,0H3.67","symbolSize":81,"symbolStrokeWidth":3,"labelOffset":14,"rowPadding":9}}
 }},
{"data":{"name":"drO"},"width":288,"height":215,
 "mark":{"type":"line","strokeWidth":2.5},
 "encoding":{
  "x":{"field":"v","type":"quantitative","scale":{"domain":[0,10],"nice":false,"zero":false},"axis":{"orient":"top","values":[0,2,4,6,8,10],"labelPadding":5,"title":null}},
  "y":{"field":"d","type":"quantitative","scale":{"domain":[0,50],"range":[0,215],"nice":false},"axis":{"values":[0,5,10,15,20,25,30,35,40,45,50],"labelPadding":3,"title":null}},
  "order":{"field":"d","type":"quantitative"},
  "color":{"field":"date","type":"nominal","scale":{"domain":["15.07.","02.08.","30.08."],"range":["#000000","#858585","#000000"]},"legend":null},
  "strokeDash":{"field":"date","type":"nominal","scale":{"domain":["15.07.","02.08.","30.08."],"range":[[1,0],[1,0],[9,6]]},"legend":null}
 }},
{"data":{"name":"drC"},"width":315,"height":215,
 "mark":{"type":"line","strokeWidth":2.5},
 "encoding":{
  "x":{"field":"v","type":"quantitative","scale":{"domain":[0,2.5],"nice":false,"zero":false},"axis":{"orient":"top","values":[0,0.5,1,1.5,2,2.5],"labelPadding":5,"title":null}},
  "y":{"field":"d","type":"quantitative","scale":{"domain":[0,50],"range":[0,215],"nice":false},"axis":{"values":[0,5,10,15,20,25,30,35,40,45,50],"labelPadding":3,"title":null}},
  "order":{"field":"d","type":"quantitative"},
  "color":{"field":"date","type":"nominal","scale":{"domain":["15.07.","02.08.","30.08."],"range":["#000000","#858585","#000000"]},"legend":null},
  "strokeDash":{"field":"date","type":"nominal","scale":{"domain":["15.07.","02.08.","30.08."],"range":[[1,0],[1,0],[9,6]]},"legend":null}
 }},
{"data":{"name":"riT"},"width":290,"height":229,
 "title":{"text":"Riča","orient":"left","anchor":"middle","fontSize":21,"fontWeight":"bold","font":"Lato","color":"#000000","offset":14},
 "mark":{"type":"line","strokeWidth":2.5},
 "encoding":{
  "x":{"field":"v","type":"quantitative","scale":{"domain":[5,25],"nice":false,"zero":false},"axis":{"orient":"top","values":[5,10,15,20,25],"labelPadding":5,"title":null}},
  "y":{"field":"d","type":"quantitative","scale":{"domain":[0,20],"range":[0,228],"nice":false},"axis":{"values":[0,5,10,15,20],"labelPadding":3,"title":"Depth, m","titlePadding":10}},
  "order":{"field":"d","type":"quantitative"},
  "color":{"field":"date","type":"nominal","scale":{"domain":["19.07.","02.08.","30.08.","21.09."],"range":["#000000","#858585","#000000","#000000"]},"legend":{"title":null,"orient":"none","legendX":225,"legendY":147,"padding":0,"symbolType":"M-3.67,0H3.67","symbolSize":81,"symbolStrokeWidth":3,"labelOffset":14,"rowPadding":9.5}},
  "strokeDash":{"field":"date","type":"nominal","scale":{"domain":["19.07.","02.08.","30.08.","21.09."],"range":[[1,0],[1,0],[9,6],[2.5,2.5]]},"legend":{"title":null,"orient":"none","legendX":225,"legendY":147,"padding":0,"symbolType":"M-3.67,0H3.67","symbolSize":81,"symbolStrokeWidth":3,"labelOffset":14,"rowPadding":9.5}}
 }},
{"data":{"name":"riO"},"width":288,"height":229,
 "mark":{"type":"line","strokeWidth":2.5},
 "encoding":{
  "x":{"field":"v","type":"quantitative","scale":{"domain":[0,10],"nice":false,"zero":false},"axis":{"orient":"top","values":[0,2,4,6,8,10],"labelPadding":5,"title":null}},
  "y":{"field":"d","type":"quantitative","scale":{"domain":[0,20],"range":[0,228],"nice":false},"axis":{"values":[0,5,10,15,20],"labelPadding":3,"title":null}},
  "order":{"field":"d","type":"quantitative"},
  "color":{"field":"date","type":"nominal","scale":{"domain":["19.07.","02.08.","30.08.","21.09."],"range":["#000000","#858585","#000000","#000000"]},"legend":null},
  "strokeDash":{"field":"date","type":"nominal","scale":{"domain":["19.07.","02.08.","30.08.","21.09."],"range":[[1,0],[1,0],[9,6],[2.5,2.5]]},"legend":null}
 }},
{"data":{"name":"riC"},"width":315,"height":229,
 "mark":{"type":"line","strokeWidth":2.5},
 "encoding":{
  "x":{"field":"v","type":"quantitative","scale":{"domain":[0,5],"nice":false,"zero":false},"axis":{"orient":"top","values":[0,1,2,3,4,5],"labelPadding":5,"title":null}},
  "y":{"field":"d","type":"quantitative","scale":{"domain":[0,20],"range":[0,228],"nice":false},"axis":{"values":[0,5,10,15,20],"labelPadding":3,"title":null}},
  "order":{"field":"d","type":"quantitative"},
  "color":{"field":"date","type":"nominal","scale":{"domain":["19.07.","02.08.","30.08.","21.09."],"range":["#000000","#858585","#000000","#000000"]},"legend":null},
  "strokeDash":{"field":"date","type":"nominal","scale":{"domain":["19.07.","02.08.","30.08.","21.09."],"range":[[1,0],[1,0],[9,6],[2.5,2.5]]},"legend":null}
 }},
{"data":{"name":"ilT"},"width":290,"height":228,
 "title":{"text":"Ilzas-Geraņimova","orient":"left","anchor":"middle","fontSize":21,"fontWeight":"bold","font":"Lato","color":"#000000","offset":14},
 "mark":{"type":"line","strokeWidth":2.5},
 "encoding":{
  "x":{"field":"v","type":"quantitative","scale":{"domain":[5,25],"nice":false,"zero":false},"axis":{"orient":"top","values":[5,10,15,20,25],"labelPadding":5,"title":null}},
  "y":{"field":"d","type":"quantitative","scale":{"domain":[0,40],"range":[0,228],"nice":false},"axis":{"values":[0,5,10,15,20,25,30,35,40],"labelPadding":3,"title":"Depth, m","titlePadding":10}},
  "order":{"field":"d","type":"quantitative"},
  "color":{"field":"date","type":"nominal","scale":{"domain":["19.07.","02.08.","30.08."],"range":["#000000","#858585","#000000"]},"legend":{"title":null,"orient":"none","legendX":220,"legendY":163,"padding":0,"symbolType":"M-3.67,0H3.67","symbolSize":81,"symbolStrokeWidth":3,"labelOffset":14,"rowPadding":6.5}},
  "strokeDash":{"field":"date","type":"nominal","scale":{"domain":["19.07.","02.08.","30.08."],"range":[[1,0],[1,0],[9,6]]},"legend":{"title":null,"orient":"none","legendX":220,"legendY":163,"padding":0,"symbolType":"M-3.67,0H3.67","symbolSize":81,"symbolStrokeWidth":3,"labelOffset":14,"rowPadding":6.5}}
 }},
{"data":{"name":"ilO"},"width":288,"height":228,
 "mark":{"type":"line","strokeWidth":2.5},
 "encoding":{
  "x":{"field":"v","type":"quantitative","scale":{"domain":[0,10],"nice":false,"zero":false},"axis":{"orient":"top","values":[0,2,4,6,8,10],"labelPadding":5,"title":null}},
  "y":{"field":"d","type":"quantitative","scale":{"domain":[0,40],"range":[0,228],"nice":false},"axis":{"values":[0,5,10,15,20,25,30,35,40],"labelPadding":3,"title":null}},
  "order":{"field":"d","type":"quantitative"},
  "color":{"field":"date","type":"nominal","scale":{"domain":["19.07.","02.08.","30.08."],"range":["#000000","#858585","#000000"]},"legend":null},
  "strokeDash":{"field":"date","type":"nominal","scale":{"domain":["19.07.","02.08.","30.08."],"range":[[1,0],[1,0],[9,6]]},"legend":null}
 }},
{"data":{"name":"ilC"},"width":315,"height":228,
 "mark":{"type":"line","strokeWidth":2.5},
 "encoding":{
  "x":{"field":"v","type":"quantitative","scale":{"domain":[0,5],"nice":false,"zero":false},"axis":{"orient":"top","values":[0,1,2,3,4,5],"labelPadding":5,"title":null}},
  "y":{"field":"d","type":"quantitative","scale":{"domain":[0,40],"range":[0,228],"nice":false},"axis":{"values":[0,5,10,15,20,25,30,35,40],"labelPadding":3,"title":null}},
  "order":{"field":"d","type":"quantitative"},
  "color":{"field":"date","type":"nominal","scale":{"domain":["19.07.","02.08.","30.08."],"range":["#000000","#858585","#000000"]},"legend":null},
  "strokeDash":{"field":"date","type":"nominal","scale":{"domain":["19.07.","02.08.","30.08."],"range":[[1,0],[1,0],[9,6]]},"legend":null}
 }}
]
}
